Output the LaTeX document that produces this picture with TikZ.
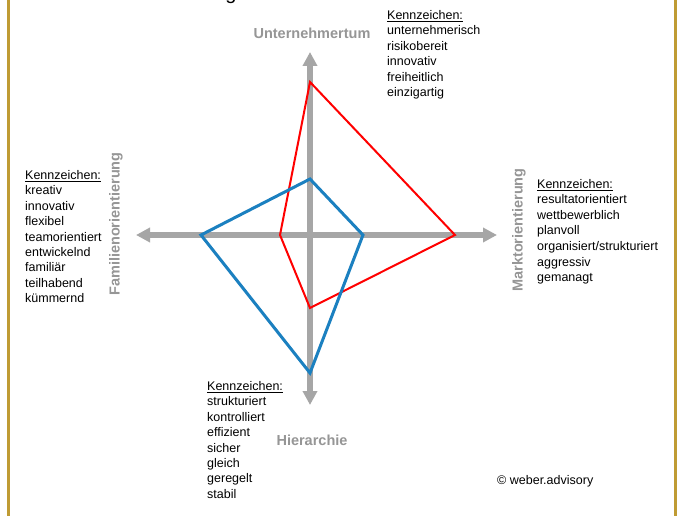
\documentclass[tikz,border=0pt]{standalone}
\usepackage{fontspec}
\setmainfont{Liberation Sans}
\usetikzlibrary{arrows.meta}
\definecolor{axisgray}{RGB}{166,166,166}
\definecolor{labelgray}{RGB}{150,150,150}
\definecolor{gold}{RGB}{191,155,52}
\definecolor{bluepoly}{RGB}{27,128,192}
\definecolor{redpoly}{RGB}{255,0,0}
\tikzset{
  axisline/.style={draw=axisgray, line width=6pt, {Triangle[width=14pt,length=14pt]}-{Triangle[width=14pt,length=14pt]}},
  axislabel/.style={font=\fontsize{14.5}{17}\selectfont\bfseries, text=labelgray, inner sep=0pt},
  bodytext/.style={font=\fontsize{12.5}{15.5}\selectfont, anchor=base west, inner sep=0pt},
  redline/.style={draw=redpoly, line width=2pt, line join=miter},
  blueline/.style={draw=bluepoly, line width=3pt, line join=miter},
  frameline/.style={draw=gold, line width=3pt}
}
\newcommand{\kz}{\underline{Kennzeichen:}}
\begin{document}
\begin{tikzpicture}[x=1pt,y=-1pt]
\useasboundingbox (0,0) rectangle (681,516);
\fill[white] (0,0) rectangle (681,516);
% frame
\coordinate (fl1) at (8,-5); \coordinate (fl2) at (8,521);
\coordinate (fr1) at (675,-5); \coordinate (fr2) at (675,521);
\draw[frameline] (fl1) -- (fl2);
\draw[frameline] (fr1) -- (fr2);
% cut-off title fragment
\node[font=\fontsize{20}{24}\selectfont, anchor=base, inner sep=0pt] (titlefrag) at (231,-0.5) {g};
% axes
\coordinate (top) at (310,52);
\coordinate (bot) at (310,405);
\coordinate (lft) at (136,235);
\coordinate (rgt) at (497,235);
\draw[axisline] (bot) -- (top);
\draw[axisline] (lft) -- (rgt);
% red polygon
\coordinate (rT) at (310,82);
\coordinate (rR) at (455,235);
\coordinate (rB) at (310,308);
\coordinate (rL) at (280,235);
\draw[redline] (rT) -- (rR) -- (rB) -- (rL) -- cycle;
% blue polygon
\coordinate (bT) at (310,179);
\coordinate (bR) at (363,235);
\coordinate (bB) at (310,373);
\coordinate (bL) at (201,235);
\draw[blueline] (bT) -- (bR) -- (bB) -- (bL) -- cycle;
% axis labels
\node[axislabel] (lblU) at (312,33) {Unternehmertum};
\node[axislabel] (lblH) at (312,440) {Hierarchie};
\node[axislabel, rotate=90] (lblF) at (116,224) {Familienorientierung};
\node[axislabel, rotate=90] (lblM) at (519,230) {Marktorientierung};
% text blocks
\foreach \t [count=\i] in {\kz,unternehmerisch,risikobereit,innovativ,freiheitlich,einzigartig}
  \node[bodytext] (tr\i) at (387,{19.5+(\i-1)*15.5}) {\t};
\foreach \t [count=\i] in {\kz,kreativ,innovativ,flexibel,teamorientiert,entwickelnd,familiär,teilhabend,kümmernd}
  \node[bodytext] (tl\i) at (25,{179.5+(\i-1)*15.4}) {\t};
\foreach \t [count=\i] in {\kz,resultatorientiert,wettbewerblich,planvoll,organisiert/strukturiert,aggressiv,gemanagt}
  \node[bodytext] (rr\i) at (537,{188.5+(\i-1)*15.5}) {\t};
\foreach \t [count=\i] in {\kz,strukturiert,kontrolliert,effizient,sicher,gleich,geregelt,stabil}
  \node[bodytext] (bb\i) at (207,{390.5+(\i-1)*15.4}) {\t};
\node[bodytext] (copy) at (497,484) {© weber.advisory};
\end{tikzpicture}
\end{document}
